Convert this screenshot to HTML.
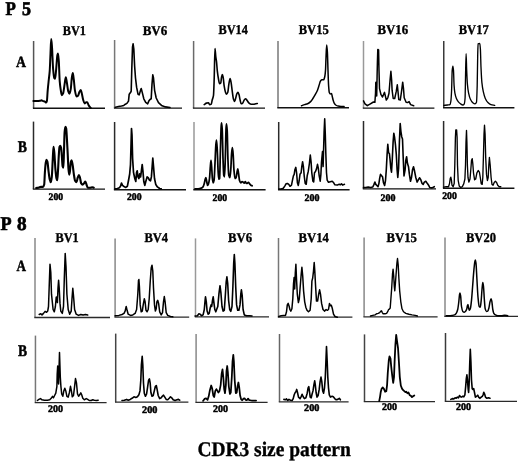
<!DOCTYPE html><html><head><meta charset="utf-8"><style>html,body{margin:0;padding:0;background:#fff;}svg{display:block;will-change:transform;}text{font-family:"Liberation Serif",serif;font-weight:bold;fill:#000;text-rendering:geometricPrecision;stroke:#000;stroke-width:0.35px;}</style></head><body>
<svg width="520" height="461" viewBox="0 0 520 461">
<rect width="520" height="461" fill="#fff"/>
<path d="M33.6 41V108.2" fill="none" stroke="#555" stroke-width="1.5"/>
<path d="M114.6 40V108.15" fill="none" stroke="#777" stroke-width="1.5"/>
<path d="M193.6 41V108.15" fill="none" stroke="#6a6a6a" stroke-width="1.5"/>
<path d="M278 41V107.7" fill="none" stroke="#777" stroke-width="1.5"/>
<path d="M363.5 41V108.1" fill="none" stroke="#999" stroke-width="1.5"/>
<path d="M443.75 41V107.7" fill="none" stroke="#3a3a3a" stroke-width="1.5"/>
<path d="M33.5 121.6V189.1" fill="none" stroke="#2a2a2a" stroke-width="1.5"/>
<path d="M114.6 122V189.8" fill="none" stroke="#2a2a2a" stroke-width="1.5"/>
<path d="M194 122V189.8" fill="none" stroke="#999" stroke-width="1.5"/>
<path d="M278.7 122V189.8" fill="none" stroke="#2a2a2a" stroke-width="1.5"/>
<path d="M363.5 121V188.9" fill="none" stroke="#2a2a2a" stroke-width="1.5"/>
<path d="M443.6 121V188.2" fill="none" stroke="#2a2a2a" stroke-width="1.5"/>
<path d="M35 238V317.5" fill="none" stroke="#888" stroke-width="1.5"/>
<path d="M115.1 238.4V317.1" fill="none" stroke="#888" stroke-width="1.5"/>
<path d="M195.5 238.4V316.9" fill="none" stroke="#999" stroke-width="1.5"/>
<path d="M278.5 238V317.1" fill="none" stroke="#777" stroke-width="1.5"/>
<path d="M364.1 237.6V316.8" fill="none" stroke="#888" stroke-width="1.5"/>
<path d="M445 237.6V316.4" fill="none" stroke="#888" stroke-width="1.5"/>
<path d="M35.45 335.6V402.7" fill="none" stroke="#777" stroke-width="1.5"/>
<path d="M115.7 333.6V402.2" fill="none" stroke="#444" stroke-width="1.5"/>
<path d="M196.1 334V402.3" fill="none" stroke="#888" stroke-width="1.5"/>
<path d="M279.5 334V401.8" fill="none" stroke="#666" stroke-width="1.5"/>
<path d="M364.5 334.4V401.6" fill="none" stroke="#444" stroke-width="1.5"/>
<path d="M445.5 333V401.4" fill="none" stroke="#3a3a3a" stroke-width="1.5"/>
<path d="M32.9 108.2H105M113.9 108.15H182M192.9 108.15H265M277.3 107.7H349M362.8 108.1H434.4M443.05 107.7H514.4" fill="none" stroke="#111" stroke-width="1.4"/>
<path d="M32.8 189.1H105M113.9 189.8H186M193.3 189.8H265.6M278 189.8H349.6M362.8 188.9H436M442.9 188.2H514.4" fill="none" stroke="#111" stroke-width="1.4"/>
<path d="M34.3 317.5H110M114.4 317.1H189.2M194.8 316.9H269M277.8 317.1H352.4M363.4 316.8H437.6M444.3 316.4H518" fill="none" stroke="#2a2a2a" stroke-width="1.3"/>
<path d="M34.75 402.7H106.6M115 402.2H188.4M195.4 402.3H267.6M278.8 401.8H348.6M363.8 401.6H435M444.8 401.4H517" fill="none" stroke="#2a2a2a" stroke-width="1.3"/>
<path d="M33.4 101.1C34.57 101.1 35.73 101.1 36.9 101.1C37.93 101.1 38.97 100.97 40 100.8C40.5 100.72 41 100.3 41.5 100.3C42.03 100.3 42.57 100.95 43.1 101.1C43.6 101.24 44.1 101.24 44.6 101.4C45.13 101.57 45.67 102.6 46.2 102.6C46.43 102.6 46.67 101.95 46.9 101.1C47.17 100.13 47.43 93.36 47.7 90.3C48.07 86.1 48.43 83.01 48.8 79.5C49.1 76.63 49.4 75.07 49.7 71.1C49.97 67.57 50.23 59.08 50.5 53.4C50.73 48.43 50.97 39 51.2 39C51.47 39 51.73 43.67 52 47.2C52.37 52.06 52.73 64.5 53.1 68.8C53.47 73.1 53.83 77.43 54.2 78C54.5 78.47 54.8 78.8 55.1 78.8C55.47 78.8 55.83 72.53 56.2 68.8C56.6 64.73 57 56.43 57.4 54.9C57.6 54.13 57.8 53.4 58 53.4C58.27 53.4 58.53 57.55 58.8 61.1C59.1 65.1 59.4 77.4 59.7 81.1C60.07 85.62 60.43 88.04 60.8 90.3C61.13 92.35 61.47 95.2 61.8 95.2C62.23 95.2 62.67 94.36 63.1 93.4C63.6 92.29 64.1 87.19 64.6 84.2C65 81.81 65.4 77.2 65.8 77.2C66.17 77.2 66.53 80.55 66.9 82.6C67.33 85.02 67.77 89.77 68.2 91.1C68.63 92.43 69.07 93.7 69.5 93.7C69.93 93.7 70.37 91.27 70.8 88.8C71.13 86.9 71.47 80.25 71.8 78C72.13 75.75 72.47 73.1 72.8 73.1C73.13 73.1 73.47 76.93 73.8 79.5C74.17 82.33 74.53 88.21 74.9 90.3C75.43 93.35 75.97 96.5 76.5 96.5C77 96.5 77.5 96.14 78 95.7C78.5 95.26 79 92.7 79.5 91.8C79.93 91.02 80.37 90 80.8 90C81.13 90 81.47 92.09 81.8 93.4C82.23 95.1 82.67 98.04 83.1 99.5C83.6 101.18 84.1 103.4 84.6 103.4C85.13 103.4 85.67 102.3 86.2 102.3C86.53 102.3 86.87 102.3 87.2 102.3C87.63 102.3 88.07 104.15 88.5 104.9C89 105.77 89.5 106.61 90 107.2C90.27 107.52 90.53 107.73 90.8 108" fill="none" stroke="#000" stroke-width="2.0" stroke-linejoin="round" stroke-linecap="round"/>
<path d="M115.4 107.2 L118.5 106.5 L121.5 106 L123.8 105.4 L125.4 104.2 L126.9 103.4 L128.5 101.1 L129.2 94.2 L130.5 92.6 L131.2 91.1 L131.8 68.8 L132.5 47.2 L133.1 43.8 L133.8 48.8 L134.6 65.7 L135.5 78 L136.6 87.2 L138 94.2 L139.2 94.9 L140.3 91.1 L141.2 88.5 L142.3 92.6 L143.8 98.8 L145.7 102.3 L147.7 103.8 L148.8 101.1 L150 99.5 L151.2 98.8 L152 84.2 L152.8 74.9 L153.5 78 L154.6 90.3 L156.2 98 L158.5 102.6 L161.5 105.4 L165.4 106.9 L170 107.5" fill="none" stroke="#000" stroke-width="1.6" stroke-linejoin="round" stroke-linecap="round"/>
<path d="M204.2 104.6C204.97 104.1 205.73 103.28 206.5 103.1C207.17 102.94 207.83 102.8 208.5 102.8C208.87 102.8 209.23 104.6 209.6 104.6C210.13 104.6 210.67 104.51 211.2 104.3C211.53 104.17 211.87 101.3 212.2 100C212.63 98.31 213.07 98.29 213.5 95.4C213.73 93.84 213.97 85.32 214.2 78.5C214.47 70.7 214.73 48.5 215 48.5C215.27 48.5 215.53 54.76 215.8 56.9C216.03 58.78 216.27 59.55 216.5 61.5C216.77 63.73 217.03 68.44 217.3 70.8C217.67 74.05 218.03 76.51 218.4 78.5C218.8 80.67 219.2 83.8 219.6 83.8C219.97 83.8 220.33 83.54 220.7 83.1C221 82.74 221.3 78.11 221.6 76.9C221.87 75.83 222.13 74.6 222.4 74.6C222.67 74.6 222.93 76.3 223.2 77.7C223.53 79.45 223.87 84.16 224.2 86.2C224.63 88.85 225.07 91.15 225.5 92.3C225.83 93.19 226.17 94.2 226.5 94.2C226.93 94.2 227.37 93.4 227.8 92.3C228.13 91.46 228.47 86.56 228.8 84.6C229.23 82.05 229.67 78.5 230.1 78.5C230.47 78.5 230.83 81.1 231.2 83.1C231.53 84.92 231.87 88.45 232.2 90.8C232.63 93.86 233.07 97.93 233.5 99.2C233.9 100.37 234.3 101.5 234.7 101.5C235.07 101.5 235.43 99.04 235.8 97.7C236.13 96.48 236.47 94.48 236.8 93.8C237.17 93.05 237.53 92.3 237.9 92.3C238.27 92.3 238.63 93.52 239 94.6C239.37 95.68 239.73 98.51 240.1 100C240.47 101.49 240.83 103.8 241.2 103.8C241.7 103.8 242.2 103.48 242.7 103.1C243.2 102.72 243.7 100.55 244.2 100C244.73 99.41 245.27 98.8 245.8 98.8C246.3 98.8 246.8 100.13 247.3 100.8C247.8 101.47 248.3 102.36 248.8 102.8C249.6 103.5 250.4 104.3 251.2 104.3C251.97 104.3 252.73 104.3 253.5 104.3C254.27 104.3 255.03 103.96 255.8 103.8C256.3 103.7 256.8 103.6 257.3 103.5" fill="none" stroke="#000" stroke-width="1.6" stroke-linejoin="round" stroke-linecap="round"/>
<path d="M301.5 105.7C302.53 105.33 303.57 104.91 304.6 104.6C305.6 104.3 306.6 104.19 307.6 103.8C308.6 103.41 309.6 102.56 310.6 101.6C311.37 100.86 312.13 99.64 312.9 98.5C313.67 97.36 314.43 96.07 315.2 94.7C315.97 93.33 316.73 92.06 317.5 90.2C318 88.99 318.5 87.13 319 85.6C319.5 84.07 320 81.63 320.5 81C321 80.37 321.5 79.8 322 79.8C322.53 79.8 323.07 79.8 323.6 79.8C324 79.8 324.4 78.25 324.8 76.5C325.03 75.48 325.27 73.46 325.5 70.4C325.7 67.77 325.9 59.29 326.1 55.2C326.3 51.11 326.5 44.9 326.7 44.9C326.93 44.9 327.17 48.53 327.4 52.2C327.6 55.34 327.8 64.88 328 70.4C328.2 75.92 328.4 82.76 328.6 85.6C328.83 88.91 329.07 91.78 329.3 92.4C329.67 93.38 330.03 94 330.4 94C330.77 94 331.13 93.5 331.5 93.5C331.73 93.5 331.97 95.26 332.2 96.2C332.5 97.41 332.8 98.98 333.1 100C333.47 101.25 333.83 102.45 334.2 103.1C334.7 103.99 335.2 104.64 335.7 105C336.47 105.55 337.23 105.97 338 106.1C339 106.27 340 106.4 341 106.4C342.03 106.4 343.07 106.4 344.1 106.4" fill="none" stroke="#000" stroke-width="1.5" stroke-linejoin="round" stroke-linecap="round"/>
<path d="M363.5 100.8 L365 103.8 L367.3 105.7 L370.4 103.8 L373.4 102 L374.9 102.3 L375.5 93.5 L375.8 82.6 L376.3 82 L376.7 96 L377.1 76 L377.4 62.8 L377.8 49.4 L378.6 49.9 L379 70.4 L379.5 88.6 L381 94.7 L382.5 97 L384.5 92.4 L386.3 100 L387.8 97.8 L389 93.2 L390.1 79.5 L390.9 71.2 L391.6 79.5 L392.1 90.2 L393.2 98.5 L394.7 98.5 L396.2 91.7 L397.3 84.8 L398 91.7 L398.8 99.6 L400.3 100 L401.5 91.7 L402.7 82.2 L403.5 88.6 L404.2 97.8 L406.1 102.3 L407.6 102.6 L409.1 101.6 L410.6 104.6 L413.7 105.7" fill="none" stroke="#000" stroke-width="1.5" stroke-linejoin="round" stroke-linecap="round"/>
<path d="M443.8 105.3C445.07 105.2 446.33 105.14 447.6 105C448.37 104.91 449.13 104.89 449.9 104.6C450.23 104.47 450.57 102.9 450.9 100.8C451.13 99.33 451.37 95.09 451.6 90.2C451.8 86.01 452 72.51 452.2 70.4C452.43 67.94 452.67 66.1 452.9 66.1C453.1 66.1 453.3 68.17 453.5 70.4C453.7 72.63 453.9 82.78 454.1 85.6C454.37 89.37 454.63 91.76 454.9 93.2C455.4 95.9 455.9 97.33 456.4 98.5C457 99.9 457.6 100.85 458.2 101.6C458.97 102.55 459.73 103.28 460.5 103.8C461.27 104.32 462.03 105 462.8 105C463.3 105 463.8 104.59 464.3 103.8C464.57 103.38 464.83 101.58 465.1 97.8C465.23 95.91 465.37 83.98 465.5 78C465.7 69.03 465.9 53.7 466.1 53.7C466.3 53.7 466.5 65.78 466.7 70.4C466.93 75.79 467.17 81.45 467.4 84.1C467.8 88.65 468.2 91.28 468.6 93.2C469.2 96.08 469.8 98.07 470.4 99.3C471.17 100.87 471.93 102.01 472.7 102.6C473.47 103.19 474.23 103.8 475 103.8C475.5 103.8 476 103.38 476.5 102.3C476.73 101.8 476.97 93.79 477.2 85.6C477.37 79.75 477.53 61.58 477.7 55.2C477.83 50.09 477.97 43.9 478.1 43.8C478.67 43.39 479.23 43.3 479.8 43.3C480 43.3 480.2 46.16 480.4 49.1C480.6 52.04 480.8 62.97 481 67.4C481.3 74.05 481.6 79.69 481.9 82.6C482.37 87.13 482.83 89.58 483.3 91.7C483.97 94.73 484.63 97.04 485.3 98.5C486.17 100.4 487.03 101.78 487.9 102.6C488.9 103.55 489.9 104.3 490.9 104.6C492.17 104.97 493.43 105.07 494.7 105.3" fill="none" stroke="#000" stroke-width="1.35" stroke-linejoin="round" stroke-linecap="round"/>
<path d="M36.2 188C36.97 187.9 37.73 187.85 38.5 187.7C39.27 187.55 40.03 186.9 40.8 186.9C41.57 186.9 42.33 186.9 43.1 186.9C43.47 186.9 43.83 186.06 44.2 184.6C44.43 183.67 44.67 175.56 44.9 172.3C45.17 168.58 45.43 164.76 45.7 163.1C45.97 161.44 46.23 159.7 46.5 159.7C46.8 159.7 47.1 160.55 47.4 161.5C47.77 162.66 48.13 167.99 48.5 170.8C48.9 173.87 49.3 177.6 49.7 179.2C50.07 180.66 50.43 182.3 50.8 182.3C51.13 182.3 51.47 179.68 51.8 176.9C52.13 174.12 52.47 164.29 52.8 158.5C53.03 154.44 53.27 146.9 53.5 146.9C53.77 146.9 54.03 149.85 54.3 152.3C54.67 155.67 55.03 165.2 55.4 169.2C55.77 173.2 56.13 177.11 56.5 178.5C56.73 179.39 56.97 180.3 57.2 180.3C57.47 180.3 57.73 174.72 58 170.8C58.27 166.88 58.53 159.35 58.8 155.4C59.03 151.94 59.27 147.49 59.5 146.9C59.77 146.23 60.03 145.8 60.3 145.8C60.57 145.8 60.83 146.64 61.1 147.7C61.33 148.62 61.57 152.58 61.8 155.4C62.07 158.63 62.33 165.32 62.6 166.2C62.87 167.08 63.13 167.7 63.4 167.7C63.6 167.7 63.8 156.69 64 150.8C64.2 144.91 64.4 134.58 64.6 132.3C64.87 129.25 65.13 126.9 65.4 126.9C65.67 126.9 65.93 127.55 66.2 128.5C66.43 129.33 66.67 134.7 66.9 138.5C67.17 142.85 67.43 148.68 67.7 153.8C67.97 158.92 68.23 166.29 68.5 169.2C68.73 171.75 68.97 174.6 69.2 174.6C69.47 174.6 69.73 172.55 70 170.8C70.27 169.05 70.53 163.49 70.8 162.3C71.03 161.26 71.27 160.3 71.5 160.3C71.87 160.3 72.23 162.71 72.6 164.6C73 166.66 73.4 171.26 73.8 173.8C74.23 176.55 74.67 180.02 75.1 180.8C75.57 181.64 76.03 182.3 76.5 182.3C76.9 182.3 77.3 178.81 77.7 177.7C78.1 176.59 78.5 175.1 78.9 175.1C79.27 175.1 79.63 176.53 80 177.7C80.37 178.87 80.73 182.47 81.1 183.1C81.6 183.96 82.1 184.6 82.6 184.6C83.13 184.6 83.67 183.69 84.2 183.1C84.6 182.66 85 181.5 85.4 181.5C85.77 181.5 86.13 183.61 86.5 184.6C86.9 185.68 87.3 187.7 87.7 187.7C88.47 187.7 89.23 187.7 90 187.7C90.77 187.7 91.53 187.2 92.3 187.2C92.8 187.2 93.3 187.53 93.8 187.7" fill="none" stroke="#000" stroke-width="2.1" stroke-linejoin="round" stroke-linecap="round"/>
<path d="M115.1 188.9 L117.4 188.5 L119.4 187.7 L120.5 186.2 L121.5 183.1 L122.5 185.4 L124 186.5 L125.8 187.4 L127.4 186.2 L128.6 180 L129.7 173.8 L130.5 164.6 L131.1 143.1 L131.5 128.5 L132 135.4 L132.6 158.5 L133.5 172.3 L134.8 178.5 L135.8 181.5 L136.6 172.3 L137.2 170.8 L138 176.9 L138.9 178.5 L139.7 173.8 L140.6 176.9 L141.4 170.8 L142.2 164.6 L142.9 170.8 L143.8 181.5 L144.8 185.4 L145.8 181.5 L147.1 176.9 L148.2 177.7 L149.4 180 L150.5 180.8 L151.4 176.9 L152.2 166.2 L152.8 158.2 L153.5 166.2 L154.5 178.5 L155.8 184.6 L157.4 186.9 L159.7 188.5 L161.2 188.9" fill="none" stroke="#000" stroke-width="1.7" stroke-linejoin="round" stroke-linecap="round"/>
<path d="M195 188.9C196.03 188.87 197.07 188.86 198.1 188.8C199.13 188.74 200.17 188.53 201.2 188.2C201.8 188.01 202.4 187.6 203 186.9C203.4 186.43 203.8 185.13 204.2 183.8C204.53 182.69 204.87 180.15 205.2 179.2C205.43 178.53 205.67 177.7 205.9 177.7C206.17 177.7 206.43 180.29 206.7 181.5C207 182.86 207.3 185.4 207.6 185.4C207.9 185.4 208.2 184.59 208.5 183.8C208.83 182.92 209.17 181.07 209.5 178.5C209.8 176.19 210.1 169.59 210.4 166.2C210.6 163.94 210.8 160.3 211 160.3C211.2 160.3 211.4 163.83 211.6 166.2C211.87 169.37 212.13 176.38 212.4 178.5C212.67 180.62 212.93 182.8 213.2 182.8C213.5 182.8 213.8 181.6 214.1 180C214.4 178.4 214.7 168.99 215 163.1C215.3 157.21 215.6 147.85 215.9 144.6C216.1 142.43 216.3 140 216.5 140C216.77 140 217.03 146.12 217.3 150.8C217.57 155.48 217.83 166.51 218.1 170.8C218.33 174.55 218.57 179.2 218.8 179.2C219.07 179.2 219.33 178.96 219.6 178.5C219.87 178.04 220.13 159.49 220.4 150.8C220.67 142.11 220.93 129.54 221.2 126.2C221.33 124.53 221.47 122.8 221.6 122.8C221.8 122.8 222 125.98 222.2 129.2C222.47 133.49 222.73 151.35 223 158.5C223.27 165.65 223.53 174.38 223.8 175.4C224.03 176.29 224.27 176.9 224.5 176.9C224.77 176.9 225.03 166.18 225.3 158.5C225.57 150.82 225.83 131.59 226.1 127.7C226.23 125.75 226.37 123.8 226.5 123.8C226.73 123.8 226.97 127.07 227.2 130.8C227.43 134.53 227.67 152.47 227.9 158.5C228.2 166.26 228.5 174.24 228.8 175.4C229.17 176.82 229.53 177.7 229.9 177.7C230.2 177.7 230.5 173.03 230.8 169.2C231.07 165.8 231.33 156.71 231.6 153.8C231.87 150.89 232.13 147.7 232.4 147.7C232.67 147.7 232.93 151.92 233.2 155.4C233.43 158.44 233.67 166.35 233.9 169.2C234.27 173.67 234.63 178.5 235 178.5C235.37 178.5 235.73 178.19 236.1 177.7C236.4 177.3 236.7 173.79 237 172.3C237.27 170.98 237.53 168.9 237.8 168.9C238.03 168.9 238.27 171.6 238.5 173.1C238.87 175.46 239.23 179.8 239.6 180.8C240 181.89 240.4 182.8 240.8 182.8C241.23 182.8 241.67 181.5 242.1 181.5C242.47 181.5 242.83 182.02 243.2 182.3C243.53 182.55 243.87 183.1 244.2 183.1C244.57 183.1 244.93 181.5 245.3 181.5C245.6 181.5 245.9 182.95 246.2 183.1C246.57 183.28 246.93 183.4 247.3 183.4C247.67 183.4 248.03 182.3 248.4 182.3C248.8 182.3 249.2 183.35 249.6 183.8C250.13 184.4 250.67 185.1 251.2 185.4C251.53 185.58 251.87 185.67 252.2 185.8" fill="none" stroke="#000" stroke-width="1.75" stroke-linejoin="round" stroke-linecap="round"/>
<path d="M278.8 188.9 L281.1 188.9 L283.4 188.2 L284.9 185.8 L286 183.8 L287.5 183.5 L288.8 184.3 L290 186.3 L291.5 185.1 L292.6 179.7 L293.4 175.8 L294.2 174.3 L294.9 169.7 L295.8 167.4 L296.6 172.8 L297.4 182.8 L298.3 185.4 L299.2 180.5 L300 174.3 L301.1 172.8 L301.8 166.6 L302.6 161.7 L303.4 166.6 L304.2 175.8 L305.2 183.5 L306.2 184.3 L307.2 175.8 L308.3 171.2 L309.4 163.5 L310.3 155.1 L311.1 162 L311.8 172.8 L312.9 181.2 L313.7 182 L314.5 172.8 L315.5 171.5 L316.5 168.9 L317.5 164.3 L318.3 168.2 L319.2 175.8 L320.2 181.2 L320.9 174.3 L321.5 162 L322.5 151.5 L323.1 166.6 L323.5 152.8 L324.1 132 L324.7 118.8 L325.3 134.3 L325.8 152.8 L326.5 172.8 L327.2 180.2 L328.5 182.3 L330.3 181.7 L332.2 181.2 L333.7 182.8 L334.9 184.8 L337.2 185.1 L339.2 184.3 L340.3 184.8 L341.5 183.8 L342.6 185.1 L344.5 184.3" fill="none" stroke="#000" stroke-width="1.55" stroke-linejoin="round" stroke-linecap="round"/>
<path d="M363.5 187.5 L365.8 187.5 L368.2 187 L370.5 187.5 L372.8 187 L374 184.4 L374.9 182.1 L375.8 184.4 L376.9 185.5 L378 186.7 L378.9 183.6 L379.7 178.2 L380.5 174.4 L381.5 175.6 L382.5 176.7 L383.5 182.8 L384.6 185.5 L385.5 180.5 L386.3 169.8 L387.1 154.4 L387.8 144.4 L388.6 152.8 L389.4 153.6 L390 159 L390.8 168.2 L391.5 172.1 L392.3 159 L393.1 142.1 L393.8 133.2 L394.6 137.5 L395.5 145.2 L396.3 154.4 L397.1 169.8 L397.8 177.5 L398.6 168.2 L399.4 142.1 L400.2 123.6 L400.9 131.3 L401.7 136.7 L402.5 139 L403.2 157.5 L404 175.9 L405.1 169.8 L405.8 160.5 L406.6 156.7 L407.5 163.6 L408.5 166.7 L409.4 174.4 L410.5 181.3 L411.5 177.5 L412.5 169.8 L413.5 166.7 L414.6 171.3 L415.8 177.5 L417.1 182.1 L418.3 179.8 L419.5 177.8 L420.8 179.8 L422 183.3 L423.2 184.4 L424.3 182.1 L425.8 181.3 L427.4 183.6 L428.6 185.2 L429.7 187.5 L432 187.9 L434.3 186.7" fill="none" stroke="#000" stroke-width="1.6" stroke-linejoin="round" stroke-linecap="round"/>
<path d="M443.8 187.2 L446.2 186.7 L448.5 186.7 L449.5 183.6 L450.3 178.2 L450.8 177.2 L451.4 179.8 L452 185.2 L453.1 186.7 L454.2 183.6 L454.8 165.2 L455.4 137.5 L455.8 129.8 L456.6 129.8 L457.1 137.5 L457.5 165.2 L458.2 180.5 L459.2 185.9 L460.8 187.5 L462.3 186.7 L463.8 183.6 L464.9 179 L465.5 165.2 L466 142.1 L466.5 130.5 L466.9 142.1 L467.4 165.2 L468 177.5 L468.9 182.1 L470 179 L470.8 169.8 L471.5 160.5 L472.2 158.7 L472.8 163.6 L473.5 172.8 L474.6 179.8 L475.7 179 L476.9 172.8 L478.2 170.5 L479.4 172.1 L480.3 177.5 L481.2 183.6 L482.2 184.4 L482.8 177.5 L483.4 157.5 L484 134.4 L484.5 125.2 L485.1 134.4 L485.7 157.5 L486.5 174.4 L487.4 180.5 L488.2 177.5 L488.8 165.2 L489.4 157.5 L490.2 165.2 L491.1 177.5 L492 184.4 L493.1 185.2 L494.2 182.4 L495.4 181.3 L496.6 182.4 L497.7 185.2 L499.2 186.7 L500.8 186.7" fill="none" stroke="#000" stroke-width="1.35" stroke-linejoin="round" stroke-linecap="round"/>
<path d="M39.2 314.5 L40.8 313.8 L42 314.9 L43.5 313.4 L45.1 311.4 L46.6 312.3 L47.7 311.1 L48.5 306.5 L49.2 286.5 L50 264.2 L50.8 272.6 L51.5 294.2 L53.1 309.5 L54.3 311.8 L55.4 306.5 L56.2 297.2 L56.9 296.9 L57.4 302.6 L58 288 L58.6 280.3 L59.2 288 L60 303.4 L60.8 311.1 L62.3 313.4 L63.5 306.5 L64.3 278.8 L65.2 253.4 L66 266.5 L66.9 294.2 L68.2 309.5 L69.7 314.2 L71.2 311.1 L72 298.8 L72.8 288.3 L73.5 295.7 L74.6 309.5 L76.2 314.2 L78.5 315.4 L80.8 314.5 L83.1 315.1 L85.4 314.5 L87.7 315.1" fill="none" stroke="#000" stroke-width="1.5" stroke-linejoin="round" stroke-linecap="round"/>
<path d="M115.1 315.7 L118.9 315.4 L122 314.5 L124 313.4 L125.1 311.1 L126.2 306.5 L127.1 310.3 L128.2 314.2 L130.5 315.4 L132.8 314.9 L135.1 313.4 L136.6 309.5 L137.8 294.2 L138.5 280.3 L138.9 279.5 L139.4 286.5 L140.2 304.9 L141.2 311.8 L142.3 311.1 L143.2 304.9 L144.3 298.8 L145.1 301.8 L146 310.3 L147.1 311.8 L148.2 309.5 L149.2 298.8 L150.2 281.8 L151.2 268 L152 265.2 L152.8 271.1 L153.5 288 L154.5 304.9 L155.4 311.1 L156.2 308.8 L156.9 301.8 L157.7 300.3 L158.6 303.4 L159.7 311.8 L161.2 314.9 L162.5 312.6 L163.5 301.8 L164.3 296.5 L165.1 301.8 L166.2 312.6 L167.7 315.4 L170.5 316.5 L172.8 316.8" fill="none" stroke="#000" stroke-width="1.5" stroke-linejoin="round" stroke-linecap="round"/>
<path d="M195.1 316 L197.4 315.7 L198.9 313.8 L200.2 314.2 L201.5 315.7 L203.1 314.9 L204.3 309.5 L205.1 300.3 L205.5 296.9 L206.3 301.8 L207.1 311.1 L208.2 314.2 L209.2 313.4 L210.2 308 L211.1 304.9 L211.7 306.5 L212.5 300.3 L213.2 296.9 L214 303.4 L214.8 309.5 L215.8 311.8 L216.9 308.8 L217.8 306.5 L218.9 294.2 L220 285.7 L220.9 292.6 L222 306.5 L223.1 311.1 L224.3 310.3 L225.4 294.2 L226.2 281.8 L226.9 276.9 L227.7 283.4 L228.6 300.3 L229.7 309.5 L230.8 311.4 L232 306.5 L232.9 286.5 L233.7 263.4 L234.3 254.5 L234.9 263.4 L235.7 286.5 L236.6 304.9 L237.7 310.3 L238.9 310.3 L240 304.9 L240.8 294.2 L241.4 289.8 L242.2 295.7 L243.1 309.5 L244.3 314.9 L246.6 315.7 L249.7 315.7 L252 316" fill="none" stroke="#000" stroke-width="1.6" stroke-linejoin="round" stroke-linecap="round"/>
<path d="M278.8 316.5 L281.2 315.7 L283.5 315.4 L285.5 315.4 L286.5 311.8 L287.3 304.9 L288.2 303.4 L289.2 306.5 L289.9 309.5 L290.8 311.1 L291.9 308.8 L292.8 298.8 L293.5 284 L294.1 277.5 L294.7 289 L295.3 273 L295.9 264.2 L296.5 278.8 L297.3 294.2 L298.4 302.6 L299.3 298.8 L300.1 288 L301.2 274.2 L301.9 267.2 L302.7 275.7 L303.6 291.1 L304.7 301.8 L305.8 307.2 L307 310.3 L308.5 311.8 L310.1 310.3 L311.2 298.8 L311.9 281.1 L312.7 278 L313.5 271.1 L314.2 262.6 L314.8 271.1 L315.6 286.5 L316.5 301.1 L317.6 301.1 L318.7 294.2 L319.6 289.8 L320.5 294.2 L321.6 303.4 L323 309.5 L324.5 311.1 L326.1 309.5 L327.3 310.3 L328.5 309.5 L329.5 303.4 L330.4 305.7 L331.3 305.2 L332.2 308 L333.5 314.2 L335 316.5 L337.3 317.2" fill="none" stroke="#000" stroke-width="1.5" stroke-linejoin="round" stroke-linecap="round"/>
<path d="M370.5 316 L372.8 315.4 L375.1 314.9 L376.6 313.8 L378.2 313.4 L379.7 312.6 L380.8 311.1 L381.5 310.8 L382.3 312.6 L383.2 313.8 L385.1 313.8 L386.6 313.4 L387.8 311.4 L388.6 309.5 L389.4 309.2 L390.2 308 L390.9 298.8 L391.7 288 L392.5 274.2 L393.1 269.2 L393.7 275.7 L394.3 286.5 L394.8 290.8 L395.4 283.4 L396.2 272.6 L396.9 263.4 L397.5 258.5 L398.2 264.9 L398.9 278.8 L399.7 291.1 L400.8 301.8 L402 308.8 L403.5 311.8 L405.8 313.4 L408.9 314.2 L412 314.9 L415.1 315.4 L417.4 316" fill="none" stroke="#000" stroke-width="1.4" stroke-linejoin="round" stroke-linecap="round"/>
<path d="M446.2 315.7C447.2 315.7 448.2 315.7 449.2 315.7C450.23 315.7 451.27 315.54 452.3 315.4C453.07 315.3 453.83 315.18 454.6 314.9C455.13 314.7 455.67 314.14 456.2 313.4C456.7 312.71 457.2 311.44 457.7 309.5C458.07 308.08 458.43 304.84 458.8 301.8C459.03 299.87 459.27 296.2 459.5 294.9C459.67 293.97 459.83 292.9 460 292.9C460.2 292.9 460.4 294.39 460.6 295.7C460.9 297.66 461.2 304.72 461.5 306.5C461.93 309.07 462.37 310.94 462.8 311.4C463.3 311.93 463.8 312.3 464.3 312.3C464.8 312.3 465.3 311.71 465.8 311.1C466.13 310.69 466.47 309.9 466.8 308.8C467 308.14 467.2 306.24 467.4 305.7C467.6 305.16 467.8 304.6 468 304.6C468.27 304.6 468.53 308 468.8 308.8C469.03 309.5 469.27 310.3 469.5 310.3C469.83 310.3 470.17 309.18 470.5 308C470.83 306.82 471.17 303.47 471.5 300.3C471.87 296.81 472.23 291.15 472.6 286.5C473 281.43 473.4 275.39 473.8 271.1C474.13 267.52 474.47 263.25 474.8 261.8C475 260.93 475.2 260 475.4 260C475.6 260 475.8 261.75 476 263.4C476.3 265.87 476.6 273.72 476.9 278.8C477.27 285.01 477.63 293.3 478 297.2C478.4 301.46 478.8 306.04 479.2 306.5C479.57 306.93 479.93 307.2 480.3 307.2C480.6 307.2 480.9 303.25 481.2 300.3C481.47 297.68 481.73 292.31 482 289.5C482.27 286.69 482.53 282.6 482.8 282.6C483.03 282.6 483.27 284.61 483.5 286.5C483.77 288.66 484.03 295.35 484.3 298.8C484.6 302.68 484.9 307.74 485.2 308.8C485.63 310.33 486.07 311.4 486.5 311.4C486.9 311.4 487.3 311.28 487.7 311.1C488.1 310.92 488.5 309.42 488.9 308C489.27 306.69 489.63 303.15 490 301.8C490.37 300.45 490.73 298.8 491.1 298.8C491.33 298.8 491.57 300.03 491.8 301.1C492.13 302.64 492.47 307.72 492.8 309.5C493.13 311.28 493.47 312.87 493.8 313.4C494.33 314.25 494.87 314.62 495.4 314.9C496.17 315.3 496.93 315.7 497.7 315.7C498.97 315.7 500.23 315.7 501.5 315.7C502.53 315.7 503.57 315.2 504.6 315.2C505.63 315.2 506.67 315.53 507.7 315.7" fill="none" stroke="#000" stroke-width="1.5" stroke-linejoin="round" stroke-linecap="round"/>
<path d="M37.4 400.5 L38.9 399.4 L40.5 398.6 L42 399.8 L44.3 400.2 L47.4 400.2 L49.7 399.8 L51.2 398.3 L52.5 396.3 L53.5 397.8 L54.6 395.5 L55.8 393.2 L56.9 386.3 L57.2 374 L57.7 366 L58.6 384 L59.5 352.5 L60.3 377.1 L60.9 386.3 L61.7 394 L62.8 396.3 L63.8 390.9 L64.8 388.2 L65.8 390.9 L66.9 396.3 L68.2 397.1 L69.4 392.5 L70.5 386.3 L71.4 390.9 L72.3 396.8 L73.5 395.5 L74.6 386.3 L75.5 378.6 L76.5 383.2 L77.5 394 L78.6 396.3 L79.7 394.8 L80.8 392.8 L81.7 394.8 L82.8 398.3 L84.3 399.8 L86.2 398.6 L87.7 399.4 L89.2 400.5 L91.2 400.5 L92.8 399.8 L94.3 400.2 L96.6 400.5 L98.2 400.2" fill="none" stroke="#000" stroke-width="1.5" stroke-linejoin="round" stroke-linecap="round"/>
<path d="M122 400.5 L124.3 400.2 L126.6 399.4 L128.2 400.2 L130.2 399.4 L132 398.3 L134 396.8 L135.8 397.4 L137.4 396.8 L138.9 394.8 L140 390.9 L140.8 380.2 L141.4 364.8 L142.2 356.3 L142.8 364.8 L143.5 383.2 L144.3 393.2 L145.4 396.3 L146.6 394 L147.7 386.3 L148.6 380.2 L149.4 378.9 L150.2 383.2 L150.9 392.5 L152 396.3 L153.2 395.5 L154.3 390.9 L155.4 386.3 L156.3 385.5 L157.1 389.4 L158.2 395.5 L159.7 398.6 L161.2 397.8 L162.5 396 L163.5 395.2 L164.8 397.1 L166.2 399.4 L167.7 399.8 L169.2 398.3 L170.5 396.8 L171.7 397.8 L173.2 399.8 L175.1 400.5 L176.9 399.8 L178.5 399.4 L179.7 400.2" fill="none" stroke="#000" stroke-width="1.6" stroke-linejoin="round" stroke-linecap="round"/>
<path d="M203 400.9 L204.5 398.9 L206.1 398.3 L207.6 399.8 L208.7 396.3 L209.9 390.2 L211.2 385.5 L212.2 388.6 L213.3 395.5 L214.2 397.1 L215.3 390.9 L216.4 389.1 L217.3 390.6 L218.4 392.5 L219.5 390.9 L220.7 384.8 L221.6 374 L222.5 369.4 L223.3 377.1 L224.2 389.4 L225 393.2 L225.9 384.8 L226.5 370.9 L227.2 366 L227.9 372.5 L228.8 386.3 L229.9 394 L230.8 392.5 L231.8 377.1 L232.5 361.7 L233.3 354.8 L233.9 361.7 L234.7 380.2 L235.8 393.2 L236.7 392.5 L237.6 386.3 L238.4 382.5 L239.2 387.1 L240.1 395.5 L241.2 399.4 L242.2 400.2 L243.5 398.6 L244.5 398.3 L245.6 399.8 L246.8 400.2 L248.1 398.6 L249.3 400.2 L251.5 400.5 L254.5 400.5 L256.1 400.5" fill="none" stroke="#000" stroke-width="1.75" stroke-linejoin="round" stroke-linecap="round"/>
<path d="M283.9 399.4 L285.5 399.8 L286.5 398.9 L287.8 400.5 L289 399.4 L290.5 400.2 L292.1 400.5 L293.2 398.6 L294.2 394.8 L295.2 392.5 L295.9 391.7 L296.7 389.4 L297.5 392.5 L298.5 397.1 L300.1 398.6 L301.3 396.3 L302.1 394.3 L303.2 396.8 L304.4 398.6 L305.9 397.8 L307.2 393.2 L308.1 387.8 L308.8 386.6 L309.5 391.7 L310.2 397.1 L311.2 397.8 L312.1 394 L313 390.9 L313.9 384.8 L314.7 380.9 L315.3 384.8 L316.1 392.5 L317 397.1 L318.1 395.5 L319.2 389.4 L320.1 381.7 L321 377.1 L321.8 381.7 L322.7 390.9 L323.6 393.2 L324.5 387.8 L325.3 377.1 L325.9 361.7 L326.5 346.6 L327.2 361.7 L327.8 377.1 L328.5 387.8 L329.3 394.8 L330.5 397.1 L332.1 396.3 L333.3 396.8 L334.7 398.6 L336.2 399.8 L337.8 399.4 L339.3 398.3 L340.4 399.8" fill="none" stroke="#000" stroke-width="1.6" stroke-linejoin="round" stroke-linecap="round"/>
<path d="M379.2 401.2 L380 397.1 L380.8 391.7 L381.7 388.6 L382.8 387.5 L383.8 388.6 L385.1 391.7 L386.3 391.2 L387.1 384.8 L387.8 372.5 L388.8 360.2 L389.5 356.3 L390.5 358.6 L391.2 366.3 L392.2 375.5 L393.2 382.9 L394 377.1 L394.6 361.7 L395.4 344.8 L396.2 334.8 L397.1 341.7 L398 347.8 L398.9 361.7 L399.8 377.1 L400.8 385.5 L402 388.6 L403.2 390.2 L404.3 391.2 L405.4 392.2 L406.3 391.7 L407.4 393.2 L408.5 392.5 L409.7 395.2 L410.9 395.8 L412 397.1 L413.1 396.3 L414.3 395.5" fill="none" stroke="#000" stroke-width="1.8" stroke-linejoin="round" stroke-linecap="round"/>
<path d="M450.8 399.4 L452.3 398.6 L453.8 398.9 L455.1 397.8 L456.2 398.3 L457.4 397.1 L458.5 397.8 L459.5 395.5 L460.5 396.8 L461.5 397.1 L462.8 396.3 L463.8 396.8 L464.9 394.8 L465.7 386.3 L466.3 378.6 L466.9 374.8 L467.5 380.2 L468.2 389.4 L468.6 392.5 L469.1 384.8 L469.7 364.8 L470.3 349.4 L470.9 361.7 L471.5 380.2 L472.2 388.6 L472.9 389.4 L473.7 388.6 L474.5 392.5 L475.4 397.1 L476.6 396.3 L477.7 395.2 L478.8 397.4 L480 398.3 L481.2 397.1 L482.3 396.3 L483.1 394.8 L483.8 392.2 L484.6 394 L485.5 397.1 L486.9 398.3 L488.5 397.8 L490 398.3" fill="none" stroke="#000" stroke-width="1.6" stroke-linejoin="round" stroke-linecap="round"/>
<text x="5.5" y="14.8" font-size="19.5" textLength="10.3" lengthAdjust="spacingAndGlyphs" style="stroke-width:0.7px">P</text>
<text x="21.9" y="14.8" font-size="19.5" textLength="9" lengthAdjust="spacingAndGlyphs" style="stroke-width:0.7px">5</text>
<text x="0.4" y="229.8" font-size="19.5" textLength="11.1" lengthAdjust="spacingAndGlyphs" style="stroke-width:0.7px">P</text>
<text x="16.9" y="229.8" font-size="19.5" textLength="9.6" lengthAdjust="spacingAndGlyphs" style="stroke-width:0.7px">8</text>
<text x="62.7" y="34.5" font-size="13.5" textLength="23.2" lengthAdjust="spacingAndGlyphs">BV1</text>
<text x="142.7" y="34.5" font-size="13.5" textLength="24.6" lengthAdjust="spacingAndGlyphs">BV6</text>
<text x="218.5" y="34.3" font-size="13.5" textLength="29.4" lengthAdjust="spacingAndGlyphs">BV14</text>
<text x="298.75" y="34.3" font-size="13.5" textLength="30" lengthAdjust="spacingAndGlyphs">BV15</text>
<text x="377.5" y="34.3" font-size="13.5" textLength="30.75" lengthAdjust="spacingAndGlyphs">BV16</text>
<text x="458.75" y="34.3" font-size="13.5" textLength="30" lengthAdjust="spacingAndGlyphs">BV17</text>
<text x="55.5" y="242.4" font-size="13.5" textLength="23.25" lengthAdjust="spacingAndGlyphs">BV1</text>
<text x="144.4" y="242.2" font-size="13.5" textLength="23.6" lengthAdjust="spacingAndGlyphs">BV4</text>
<text x="228" y="242.2" font-size="13.5" textLength="24" lengthAdjust="spacingAndGlyphs">BV6</text>
<text x="298.6" y="242.2" font-size="13.5" textLength="30.4" lengthAdjust="spacingAndGlyphs">BV14</text>
<text x="386.6" y="242.2" font-size="13.5" textLength="30.4" lengthAdjust="spacingAndGlyphs">BV15</text>
<text x="466" y="242.2" font-size="13.5" textLength="30" lengthAdjust="spacingAndGlyphs">BV20</text>
<text x="15.9" y="66.8" font-size="15.7" textLength="10" lengthAdjust="spacingAndGlyphs" style="stroke-width:0.5px">A</text>
<text x="17.8" y="151.8" font-size="16.3" textLength="9.2" lengthAdjust="spacingAndGlyphs" style="stroke-width:0.5px">B</text>
<text x="16.4" y="270.6" font-size="15.7" textLength="9.5" lengthAdjust="spacingAndGlyphs" style="stroke-width:0.5px">A</text>
<text x="17.9" y="356" font-size="16.3" textLength="9.1" lengthAdjust="spacingAndGlyphs" style="stroke-width:0.5px">B</text>
<text x="48.6" y="199.8" font-size="10" textLength="14.5" lengthAdjust="spacingAndGlyphs" style="stroke-width:0.5px">200</text>
<text x="127" y="200" font-size="10" textLength="14.6" lengthAdjust="spacingAndGlyphs" style="stroke-width:0.5px">200</text>
<text x="212.6" y="200.6" font-size="10" textLength="14.6" lengthAdjust="spacingAndGlyphs" style="stroke-width:0.5px">200</text>
<text x="304.6" y="200.6" font-size="10" textLength="15" lengthAdjust="spacingAndGlyphs" style="stroke-width:0.5px">200</text>
<text x="380.6" y="200.6" font-size="10" textLength="15" lengthAdjust="spacingAndGlyphs" style="stroke-width:0.5px">200</text>
<text x="442.2" y="199" font-size="10" textLength="14.6" lengthAdjust="spacingAndGlyphs" style="stroke-width:0.5px">200</text>
<text x="48" y="412.4" font-size="10" textLength="15" lengthAdjust="spacingAndGlyphs" style="stroke-width:0.5px">200</text>
<text x="142" y="413" font-size="10" textLength="15.4" lengthAdjust="spacingAndGlyphs" style="stroke-width:0.5px">200</text>
<text x="213" y="412.4" font-size="10" textLength="15" lengthAdjust="spacingAndGlyphs" style="stroke-width:0.5px">200</text>
<text x="304" y="411" font-size="10" textLength="15.4" lengthAdjust="spacingAndGlyphs" style="stroke-width:0.5px">200</text>
<text x="382" y="410.4" font-size="10" textLength="15" lengthAdjust="spacingAndGlyphs" style="stroke-width:0.5px">200</text>
<text x="456" y="410.4" font-size="10" textLength="15" lengthAdjust="spacingAndGlyphs" style="stroke-width:0.5px">200</text>
<text x="197.4" y="455.8" font-size="20.8" textLength="153.4" lengthAdjust="spacingAndGlyphs">CDR3 size pattern</text>
</svg></body></html>
